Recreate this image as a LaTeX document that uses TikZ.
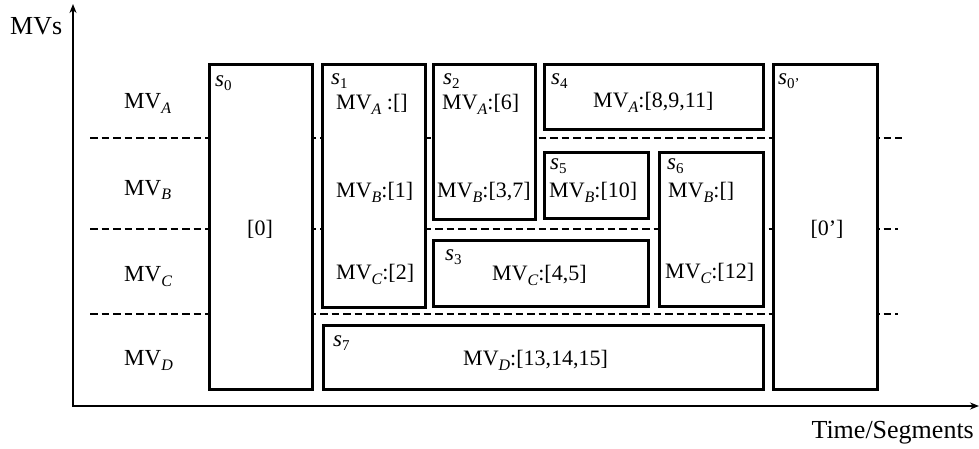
\documentclass[tikz,border=0pt]{standalone}
\usepackage{fontspec}
\setmainfont{Liberation Serif}
\usetikzlibrary{arrows.meta}
\tikzset{
  seg/.style={draw=black, line width=3.2pt, fill=white, inner sep=0pt, anchor=north west},
  lane/.style={line width=2pt, dash pattern=on 7.5pt off 4pt},
  axis/.style={line width=2pt, -{Stealth[length=9pt,width=7pt]}},
  txt/.style={inner sep=0pt, anchor=base west, font=\fontsize{22}{26}\selectfont},
  ltxt/.style={inner sep=0pt, anchor=base west, font=\fontsize{23}{27}\selectfont},
  ctxt/.style={inner sep=0pt, anchor=base, font=\fontsize{22}{26}\selectfont},
  big/.style={inner sep=0pt, font=\fontsize{26}{30}\selectfont},
}
% italic subscript set below the baseline
\newcommand{\lowsub}[1]{\raisebox{-5pt}{\fontsize{16}{16}\selectfont\itshape #1}}
% segment name: italic s with a lowered index
\newcommand{\sname}[1]{{\fontsize{23}{26}\selectfont\itshape s}\raisebox{-4pt}{\fontsize{15}{15}\selectfont #1}}
\newcommand{\segbox}[5]{% name, x0, y0, x1, y1
  \node[seg, minimum width={(#4-#2)*1pt}, minimum height={(#5-#3)*1pt}] (#1) at (#2,#3) {};}
\begin{document}
\begin{tikzpicture}[x=1pt,y=-1pt]
\useasboundingbox (0,0) rectangle (979,449);

% axes
\coordinate (o) at (73,406);
\coordinate (ytop) at (73,4);
\coordinate (xend) at (979,406);
\draw[axis] (o) -- (ytop);
\draw[axis] ([xshift=-1pt]o) -- (xend);
\node[big, anchor=base west] (ylab) at (10,35) {MVs};
\node[big, anchor=base east] (xlab) at (974,438) {Time/Segments};

% lane separators
\coordinate (a1) at (90,138); \coordinate (b1) at (902,138);
\coordinate (a2) at (90,229); \coordinate (b2) at (898,229);
\coordinate (a3) at (90,314); \coordinate (b3) at (898,314);
\draw[lane] (a1) -- (b1);
\draw[lane] (a2) -- (b2);
\draw[lane] (a3) -- (b3);

% lane names
\node[ltxt] (la) at (124,109) {MV\lowsub{A}};
\node[ltxt] (lb) at (124,195) {MV\lowsub{B}};
\node[ltxt] (lc) at (124,281) {MV\lowsub{C}};
\node[ltxt] (ld) at (124,365) {MV\lowsub{D}};

% segments
\segbox{s0}{208}{63}{311}{388}
\segbox{s1}{321}{63}{424}{306}
\segbox{s2}{432}{63}{534}{218}
\segbox{s4}{543}{63}{762}{128}
\segbox{s5}{543}{151}{647}{217}
\segbox{s6}{658}{151}{762}{305}
\segbox{s3}{432}{239}{647}{305}
\segbox{s7}{322}{324}{762}{388}
\segbox{s0p}{772}{63}{876}{388}

% segment names
\node[txt] (n0) at (215,87) {\sname{0}};
\node[txt] (n1) at (331,85) {\sname{1}};
\node[txt] (n2) at (443,85) {\sname{2}};
\node[txt] (n4) at (551,85) {\sname{4}};
\node[txt] (n5) at (550,170) {\sname{5}};
\node[txt] (n6) at (667,170) {\sname{6}};
\node[txt] (n3) at (445,260) {\sname{3}};
\node[txt] (n7) at (333,346) {\sname{7}};
\node[txt] (n0p) at (778,85) {\sname{0’}};

% contents
\node[ctxt] (c0) at (260,235) {[0]};
\node[ctxt] (c0p) at (827,235) {[0’]};
\node[txt] (c1a) at (336,110) {MV\lowsub{A} :[]};
\node[txt] (c1b) at (336,197) {MV\lowsub{B}:[1]};
\node[txt] (c1c) at (336,279) {MV\lowsub{C}:[2]};
\node[txt] (c2a) at (442,110) {MV\lowsub{A}:[6]};
\node[txt] (c2b) at (437,197) {MV\lowsub{B}:[3,7]};
\node[txt] (c4a) at (593,108) {MV\lowsub{A}:[8,9,11]};
\node[txt] (c5b) at (549,197) {MV\lowsub{B}:[10]};
\node[txt] (c6b) at (668,197) {MV\lowsub{B}:[]};
\node[txt] (c6c) at (665,278) {MV\lowsub{C}:[12]};
\node[txt] (c3c) at (492,280) {MV\lowsub{C}:[4,5]};
\node[txt] (c7d) at (463,365) {MV\lowsub{D}:[13,14,15]};
\end{tikzpicture}
\end{document}
